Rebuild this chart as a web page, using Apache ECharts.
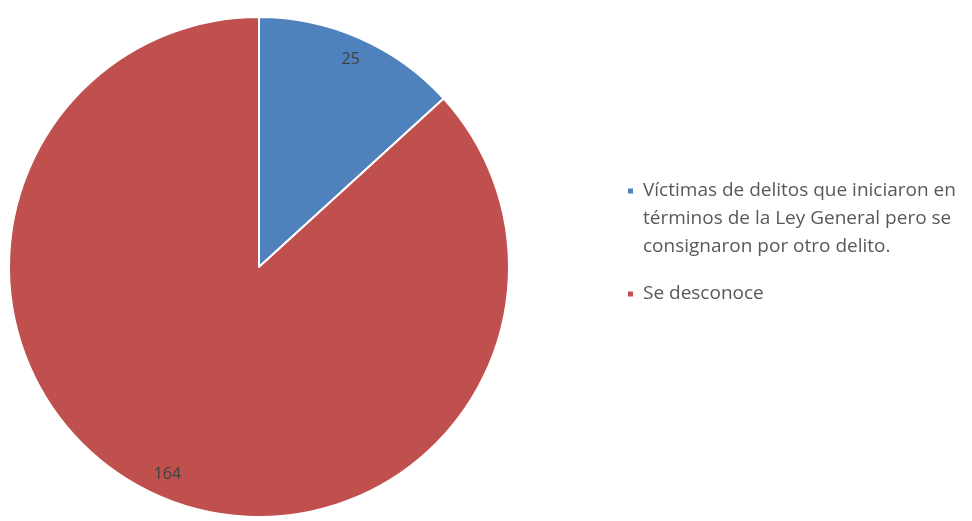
<!DOCTYPE html>
<html><head><meta charset="utf-8">
<script src="https://cdn.jsdelivr.net/npm/echarts@6/dist/echarts.min.js"></script>
<style>html,body{margin:0;padding:0;background:#fff}#c{width:972px;height:521px}</style>
</head><body><div id="c"></div>
<script>
const categories = ['Víctimas de delitos que iniciaron en términos de la Ley General pero se consignaron por otro delito.', 'Se desconoce'];
const values = [25, 164];
const colors = ['#4F81BD', '#C0504D'];
const legendLines = {
  'Víctimas de delitos que iniciaron en términos de la Ley General pero se consignaron por otro delito.': '\n\nVíctimas de delitos que iniciaron en\ntérminos de la Ley General pero se\nconsignaron por otro delito.',
  'Se desconoce': 'Se desconoce'
};
const data = categories.map((n, i) => ({ name: n, value: values[i], itemStyle: { color: colors[i] } }));
const chart = echarts.init(document.getElementById('c'));
chart.setOption({
  animation: false,
  legend: {
    orient: 'vertical',
    left: 621,
    top: 116,
    itemWidth: 7,
    itemHeight: 7,
    itemGap: 19,
    icon: 'rect',
    data: categories,
    formatter: n => legendLines[n],
    textStyle: { fontFamily: 'Open Sans', fontSize: 19, color: '#595959', lineHeight: 28, padding: [0, 0, 0, 4] }
  },
  series: [
    {
      type: 'pie',
      center: [259, 267],
      radius: [0, 250],
      startAngle: 90,
      clockwise: true,
      label: { show: false },
      labelLine: { show: false },
      itemStyle: { borderColor: '#fff', borderWidth: 2 },
      data: data
    },
    {
      type: 'pie',
      center: [259, 267],
      radius: [198, 250],
      startAngle: 90,
      clockwise: true,
      silent: true,
      label: { show: true, position: 'inside', formatter: '{c}', fontFamily: 'Open Sans', fontSize: 16, color: '#404040' },
      labelLine: { show: false },
      itemStyle: { color: 'rgba(0,0,0,0)' },
      data: categories.map((n, i) => ({ name: n, value: values[i] }))
    }
  ]
});
</script></body></html>
